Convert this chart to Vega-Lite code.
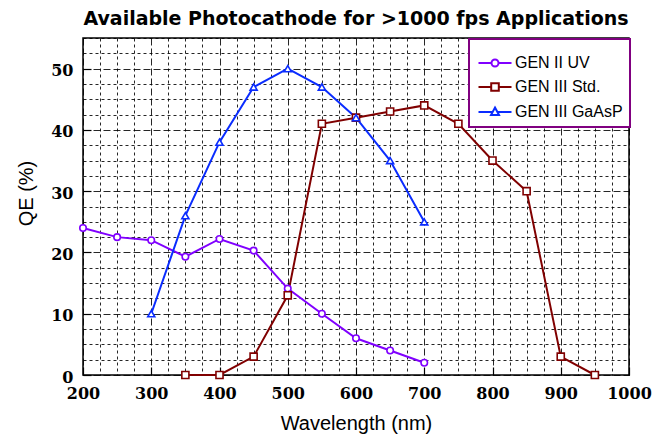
{
  "$schema": "https://vega.github.io/schema/vega-lite/v6.json",
  "width": 546,
  "height": 337,
  "autosize": {"type": "none"},
  "padding": {"left": 83, "top": 38, "right": 34, "bottom": 61},
  "background": "white",
  "title": {
    "text": "Available Photocathode for >1000 fps Applications",
    "font": "DejaVu Sans",
    "fontSize": 19,
    "fontWeight": "bold",
    "color": "#000000",
    "anchor": "middle",
    "offset": 3
  },
  "config": {
    "view": {"stroke": "#000000", "strokeWidth": 1.5},
    "axis": {
      "domain": false,
      "ticks": true,
      "tickSize": -8,
      "tickColor": "#000000",
      "tickWidth": 1.2,
      "labelFont": "DejaVu Serif",
      "labelFontWeight": "bold",
      "labelFontSize": 16,
      "labelColor": "#000000",
      "titleFont": "Liberation Sans",
      "titleFontWeight": "normal",
      "titleFontSize": 20,
      "titleColor": "#000000",
      "gridColor": "#000000",
      "gridOpacity": 0.85,
      "gridWidth": 1
    }
  },
  "data": {
    "values": [
      {"series": "GEN II UV", "wl": 200, "qe": 24},
      {"series": "GEN II UV", "wl": 250, "qe": 22.5},
      {"series": "GEN II UV", "wl": 300, "qe": 22},
      {"series": "GEN II UV", "wl": 350, "qe": 19.3},
      {"series": "GEN II UV", "wl": 400, "qe": 22.2},
      {"series": "GEN II UV", "wl": 450, "qe": 20.3},
      {"series": "GEN II UV", "wl": 500, "qe": 14.1},
      {"series": "GEN II UV", "wl": 550, "qe": 10},
      {"series": "GEN II UV", "wl": 600, "qe": 6},
      {"series": "GEN II UV", "wl": 650, "qe": 4},
      {"series": "GEN II UV", "wl": 700, "qe": 2},
      {"series": "GEN III Std.", "wl": 350, "qe": 0},
      {"series": "GEN III Std.", "wl": 400, "qe": 0},
      {"series": "GEN III Std.", "wl": 450, "qe": 3},
      {"series": "GEN III Std.", "wl": 500, "qe": 13},
      {"series": "GEN III Std.", "wl": 550, "qe": 41},
      {"series": "GEN III Std.", "wl": 600, "qe": 42},
      {"series": "GEN III Std.", "wl": 650, "qe": 43},
      {"series": "GEN III Std.", "wl": 700, "qe": 44},
      {"series": "GEN III Std.", "wl": 750, "qe": 41},
      {"series": "GEN III Std.", "wl": 800, "qe": 35},
      {"series": "GEN III Std.", "wl": 850, "qe": 30},
      {"series": "GEN III Std.", "wl": 900, "qe": 3},
      {"series": "GEN III Std.", "wl": 950, "qe": 0},
      {"series": "GEN III GaAsP", "wl": 300, "qe": 10},
      {"series": "GEN III GaAsP", "wl": 350, "qe": 26},
      {"series": "GEN III GaAsP", "wl": 400, "qe": 38},
      {"series": "GEN III GaAsP", "wl": 450, "qe": 47},
      {"series": "GEN III GaAsP", "wl": 500, "qe": 50},
      {"series": "GEN III GaAsP", "wl": 550, "qe": 47},
      {"series": "GEN III GaAsP", "wl": 600, "qe": 42},
      {"series": "GEN III GaAsP", "wl": 650, "qe": 35},
      {"series": "GEN III GaAsP", "wl": 700, "qe": 25}
    ]
  },
  "encoding": {
    "x": {
      "field": "wl",
      "type": "quantitative",
      "scale": {"domain": [200, 1000], "nice": false, "zero": false},
      "axis": {
        "title": "Wavelength (nm)",
        "values": [200,225,250,275,300,325,350,375,400,425,450,475,500,525,550,575,600,625,650,675,700,725,750,775,800,825,850,875,900,925,950,975,1000],
        "format": "d",
        "labelExpr": "datum.value % 100 === 0 ? datum.label : ''",
        "labelPadding": 18,
        "labelFlush": false,
        "labelOverlap": false,
        "tickOpacity": {"condition": {"test": "datum.value % 100 === 0", "value": 1}, "value": 0},
        "gridDash": {"condition": {"test": "datum.value % 100 === 0", "value": [7, 3]}, "value": [3, 3]},
        "titleX": 273,
        "titleY": 54,
        "titleAlign": "center",
        "titleBaseline": "alphabetic"
      }
    },
    "y": {
      "field": "qe",
      "type": "quantitative",
      "scale": {"domain": [0, 55], "nice": false},
      "axis": {
        "title": "QE (%)",
        "values": [0,2.5,5,7.5,10,12.5,15,17.5,20,22.5,25,27.5,30,32.5,35,37.5,40,42.5,45,47.5,50,52.5,55],
        "labelExpr": "datum.value % 10 === 0 ? datum.label : ''",
        "labelPadding": 18,
        "labelOffset": 2,
        "labelFlush": false,
        "labelOverlap": false,
        "tickOpacity": {"condition": {"test": "datum.value % 10 === 0", "value": 1}, "value": 0},
        "gridDash": {"condition": {"test": "datum.value % 10 === 0", "value": [7, 3]}, "value": [3, 3]},
        "titleX": -57,
        "titleY": 155,
        "titleAngle": -90,
        "titleAlign": "center",
        "titleBaseline": "middle"
      }
    }
  },
  "layer": [
    {
      "mark": {"type": "line", "strokeWidth": 2},
      "encoding": {
        "color": {
          "field": "series",
          "type": "nominal",
          "scale": {
            "domain": ["GEN II UV", "GEN III Std.", "GEN III GaAsP"],
            "range": ["#8000ff", "#800000", "#0a2cff"]
          },
          "legend": {
            "title": " ",
            "titleFontSize": 2,
            "titlePadding": 7,
            "orient": "none",
            "legendX": 386,
            "legendY": 1,
            "padding": 7,
            "fillColor": "white",
            "strokeColor": "#800080",
            "cornerRadius": 0,
            "labelFont": "Liberation Sans",
            "labelFontSize": 16,
            "labelColor": "#000000",
            "labelOffset": 12,
            "labelLimit": 300,
            "symbolSize": 100,
            "symbolOffset": 11,
            "rowPadding": 8,
            "symbolStrokeWidth": 2,
            "encode": {
              "legend": {
                "update": {
                  "strokeWidth": {"value": 2}
                }
              },
              "symbols": {
                "update": {
                  "shape": {"signal": "datum.value === 'GEN II UV' ? 'M-3.3,0H-0.7M0.7,0H3.3M0.7,0A0.7,0.7,0,1,1,-0.7,0A0.7,0.7,0,1,1,0.7,0Z' : datum.value === 'GEN III Std.' ? 'M-3.3,0H-0.76M0.76,0H3.3M-0.76,-0.76H0.76V0.76H-0.76Z' : 'M-3.3,0H-0.48M0.48,0H3.3M0,-0.9L0.8,0.6L-0.8,0.6Z'"},
                  "fill": {"value": "white"}
                }
              }
            }
          }
        }
      }
    },
    {
      "transform": [{"filter": "datum.series === 'GEN II UV'"}],
      "mark": {"type": "point", "shape": "circle", "fill": "white", "fillOpacity": 1, "stroke": "#8000ff", "strokeWidth": 1.6, "size": 42, "opacity": 1},
      "encoding": {}
    },
    {
      "transform": [{"filter": "datum.series === 'GEN III Std.'"}],
      "mark": {"type": "point", "shape": "square", "fill": "white", "fillOpacity": 1, "stroke": "#800000", "strokeWidth": 1.6, "size": 50, "opacity": 1},
      "encoding": {}
    },
    {
      "transform": [{"filter": "datum.series === 'GEN III GaAsP'"}],
      "mark": {"type": "point", "shape": "triangle-up", "fill": "white", "fillOpacity": 1, "stroke": "#0a2cff", "strokeWidth": 1.6, "size": 50, "opacity": 1},
      "encoding": {}
    }
  ]
}
